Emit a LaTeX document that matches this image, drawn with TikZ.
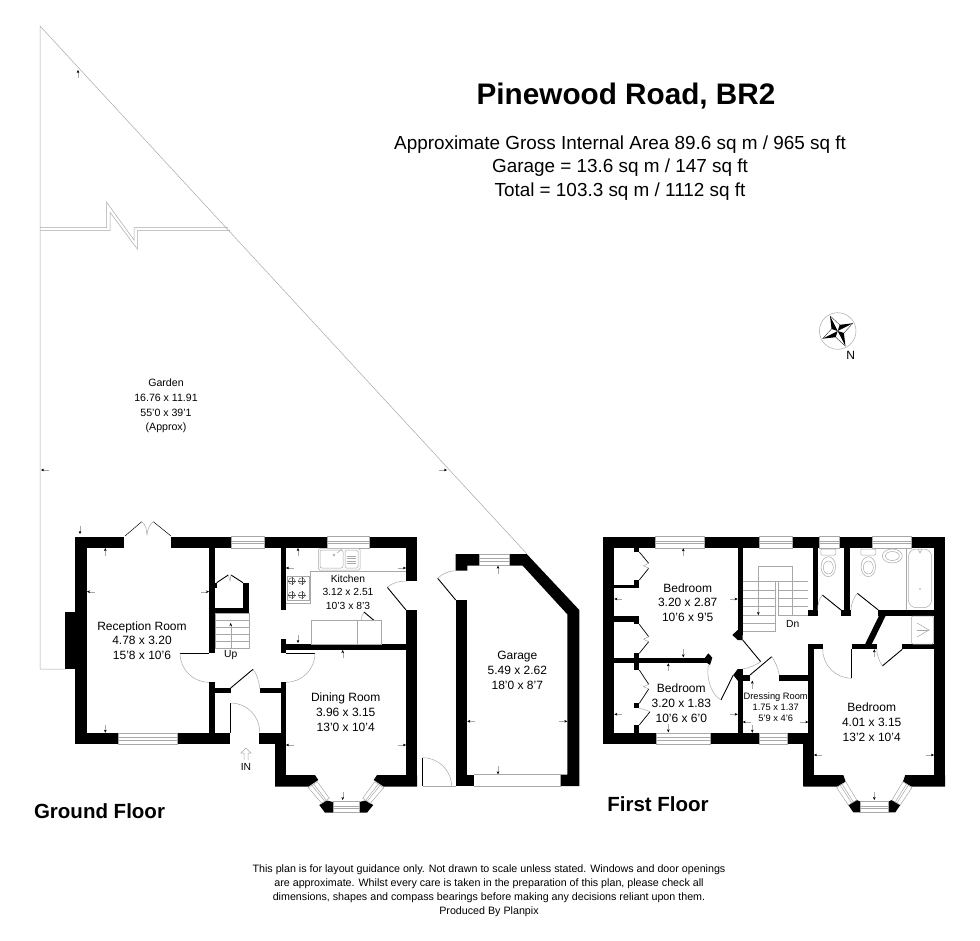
\documentclass[tikz,border=0pt]{standalone}
\usepackage{fontspec}
\setmainfont{Liberation Sans}
\usepackage{tikz}
\usetikzlibrary{arrows.meta,calc}
\definecolor{planline}{gray}{0.66}
\tikzset{
    %Define style for walls and windows
    wall/.style={fill=black,draw=none},
    winframe/.style={draw=planline,line width=.5pt,fill=white},
    fixture/.style={draw=planline,line width=.5pt,fill=white},
    thinline/.style={draw=planline,line width=.5pt},
    %Define style for doors
    leaf/.style={draw=black,line width=.9pt},
    swing/.style={draw=planline,line width=.5pt},
    % Define arrow style
    dimtick/.style={draw=planline,line width=.3pt,
           -{Stealth[length=3pt,width=2.6pt,black]}},
    %Define style for texts
    titletext/.style={font=\fontsize{29.7}{34}\selectfont\bfseries},
    areatext/.style={font=\fontsize{18.9}{23.5}\selectfont,align=center},
    floortext/.style={font=\fontsize{20.5}{24}\selectfont\bfseries},
    roomtext/.style={font=\fontsize{12}{14.6}\selectfont,align=center},
    smalltext/.style={font=\fontsize{10.3}{13.2}\selectfont,align=center},
    notetext/.style={font=\fontsize{10.7}{14}\selectfont,align=center}
}
\begin{document}
\begin{tikzpicture}[x=1pt,y=-1pt]
\useasboundingbox (0,0) rectangle (980,941);
% garden
\draw[thinline] (65,669) -- (40,669) -- (40,26) -- (527,554);
\draw[thinline] (40,227.7) -- (106.7,227.7) -- (106.7,202.3) -- (134,240) -- (134,227.7) -- (228,227.7);
\draw[thinline] (40,230.7) -- (110,230.7) -- (110,212.3) -- (137.3,249) -- (137.3,230.7) -- (230,230.7);
% ground floor walls
\foreach \xa/\ya/\xb/\yb in {75/536.7/124/548, 171/536.7/231/548, 264/536.7/327/548, 369/536.7/417/548,
    75/536.7/86.7/744.3, 65/612/75/669, 75/733/118/744.3, 177/733/230/744.3, 259/733/286/744.3,
    406/536.7/417/581, 406/610/417/786, 209/548/215/653, 209/682/215/733,
    215/688/231/693, 260/688/281/693, 243.3/583/249.3/613, 215/608/249.3/613, 215/583/217/588,
    281/548/286/610, 281/639/286/653, 281/644/406/649.5, 281/682/286/775, 275/733/286/786}
  \fill[wall] (\xa,\ya) rectangle (\xb,\yb);
\fill[wall] (275,775) -- (315,775) -- (318.3,780) -- (308.3,786.7) -- (275,786.7) -- cycle;
\fill[wall] (417,775) -- (377,775) -- (373.7,780) -- (383.7,786.7) -- (417,786.7) -- cycle;
\fill[wall] (319.3,805) -- (326.7,800.5) -- (333,802) -- (333,812.7) -- (325,812.7) -- cycle;
\fill[wall] (359.3,802) -- (365.3,800.5) -- (373.3,805) -- (367,812.7) -- (359.3,812.7) -- cycle;
% first floor walls
\foreach \xa/\ya/\xb/\yb in {603.3/536.7/655/548.3, 704.3/536.7/759/548.3, 792.7/536.7/819/548.3,
    839.3/536.7/872.3/548.3, 911.7/536.7/945/548.3, 603.3/536.7/614.3/744.3, 934/536.7/945/786,
    603.3/733.3/656/744.3, 710.7/733.3/759/744.3, 787.7/733.3/814/744.3, 803.3/733.3/814/786,
    737.7/548/742.7/635, 737.7/669/742.7/733.3, 742.7/675/750/680.7, 779.3/675/813.3/680.7,
    614.3/657.7/708.3/662.7, 614.3/585/639.3/588.3, 634/580/639.3/588.3, 634/548/639.3/552,
    614.3/615.7/639.3/621.7, 634/615.7/639.3/624.3, 634/653/639.3/670, 634/703.3/639.3/708.3, 634/725/639.3/733.3,
    813.3/548/817.7/615.7, 808.3/610/817.7/615.7, 844.3/548/850/615.7, 841/610/851/615.7,
    877.7/610/934/615.7, 808.3/644.3/822.7/649.3, 808.3/644.3/814/733.3,
    852.3/644.3/876.7/649.3, 902.3/644.3/934/649.3}
  \fill[wall] (\xa,\ya) rectangle (\xb,\yb);
\fill[wall] (879,615.7) -- (885.7,615.7) -- (871.7,644.3) -- (865,644.3) -- cycle;
\fill[wall] (737.7,630) -- (732.3,635) -- (737.7,640) -- (742.7,640) -- (742.7,630) -- cycle;
\fill[wall] (737.7,669) -- (733.3,675) -- (737.7,680.7) -- (742.7,680.7) -- (742.7,669) -- cycle;
\fill[wall] (705,657.7) -- (708.3,653.3) -- (712.3,657.7) -- (710,665) -- (706.7,662.7) -- cycle;
\fill[wall] (803.3,775) -- (843.3,775) -- (845.7,781.7) -- (836.7,786.7) -- (803.3,786.7) -- cycle;
\fill[wall] (945,775) -- (905.3,775) -- (902.9,781.7) -- (911.9,786.7) -- (945,786.7) -- cycle;
\fill[wall] (848.3,805) -- (856.7,800) -- (860.7,801.7) -- (860.7,812.3) -- (853.3,812.3) -- cycle;
\fill[wall] (887.9,801.7) -- (891.9,800) -- (900.3,805) -- (895.3,812.3) -- (887.9,812.3) -- cycle;
% garage walls
\fill[wall] (455.7,554) -- (526.7,554) -- (579.3,610) -- (579.3,786) -- (560.7,786) -- (560.7,774.7)
  -- (567.3,774.7) -- (567.3,614.3) -- (522.7,565.7) -- (467.3,565.7) -- (467.3,570.7) -- (455.7,570.7) -- cycle;
\fill[wall] (455.7,600) rectangle (467.3,786);
\fill[wall] (455.7,774.7) rectangle (474,786);
% windows
\foreach \xa/\ya/\xb/\yb in {231/536.7/264/548, 327/536.7/369/548, 118/733/177/744.3, 333/801.7/359.3/812.7,
    479.3/554/509.3/565.7, 655/536.7/704.3/548.3, 759/536.7/792.7/548.3, 819/536.7/839.3/548.3,
    872.3/536.7/911.7/548.3, 656/733.3/710.7/744.3, 759/733.3/787.7/744.3, 860.7/801.7/887.9/812.3}{
  \draw[winframe] (\xa,\ya) rectangle (\xb,\yb);
  \draw[thinline] (\xa,{\ya+(\yb-\ya)*.4}) -- (\xb,{\ya+(\yb-\ya)*.4});
  \draw[thinline] (\xa,{\ya+(\yb-\ya)*.6}) -- (\xb,{\ya+(\yb-\ya)*.6});
}
\foreach \xa/\ya/\xb/\yb/\xc/\yc/\xd/\yd in {317.3/781.7/308.3/787.7/321.7/803.3/329.3/798.3,
    374.7/781.7/383.7/787.7/370.3/803.3/362.7/798.3,
    845.7/781.7/836.7/787.7/848.3/805/856.7/800,
    902.9/781.7/911.9/787.7/900.3/805/891.9/800}{
  \draw[winframe] (\xa,\ya) -- (\xb,\yb) -- (\xc,\yc) -- (\xd,\yd) -- cycle;
  \draw[thinline] ($(\xa,\ya)!.4!(\xb,\yb)$) -- ($(\xd,\yd)!.4!(\xc,\yc)$);
  \draw[thinline] ($(\xa,\ya)!.6!(\xb,\yb)$) -- ($(\xd,\yd)!.6!(\xc,\yc)$);
}
% ground floor doors
\draw[leaf,line width=.5pt] (125,536) -- (141.7,521.7);
\draw[leaf,line width=.5pt] (171,536) -- (153.3,521.7);
\draw[swing] (141.7,521.7) .. controls (146,525) and (146.5,530) .. (147,535);
\draw[swing] (153.3,521.7) .. controls (149,525) and (147.5,530) .. (147,535);
\draw[leaf] (180,653.3) -- (209,653.3);
\draw[swing] (180,653.3) arc[start angle=180,end angle=90,radius=29];
\draw[leaf] (286,653.3) -- (315,653.3);
\draw[swing] (315,653.3) arc[start angle=0,end angle=90,radius=29];
\draw[leaf] (230.7,688) -- (253,669.3);
\draw[swing] (253,669.3) .. controls (257,674) and (259,682) .. (260,689);
\draw[leaf] (230.7,703) -- (230.7,733);
\draw[swing] (230.7,703) arc[start angle=270,end angle=360,radius=29];
\draw[leaf] (406,610) -- (387.3,587.3);
\draw[swing] (387.3,587.3) .. controls (392,583) and (399,581) .. (406,581);
\draw[leaf] (216.7,582.7) -- (228.3,575);
\draw[leaf] (243,582.7) -- (231,575);
\draw[swing] (228.3,575) -- (230,581) -- (231,575);
\draw[leaf] (364,612) -- (374.3,620.7);
\draw[swing] (364,612) .. controls (362,614) and (361.7,617) .. (361.5,620.7);
% garage doors
\draw[leaf] (455.7,600) -- (437.7,578.3);
\draw[swing] (437.7,578.3) .. controls (442,574) and (448,571) .. (455.7,570.7);
\draw[leaf] (422.7,757.7) -- (422.7,786);
\draw[swing] (422.7,757.7) arc[start angle=270,end angle=360,radius=29];
\draw[thinline] (422.7,786) -- (455.7,786);
\draw[thinline] (474,774.7) -- (560.7,774.7);
\draw[thinline] (474,786) -- (560.7,786);
% first floor doors
\draw[leaf] (841,610) -- (822.3,595);
\draw[swing] (822.3,595) .. controls (819,599) and (817.7,604) .. (817.7,610);
\draw[leaf] (878.3,610) -- (857.3,593.3);
\draw[swing] (857.3,593.3) .. controls (853.5,598) and (851,604) .. (851,610);
\draw[leaf] (851.7,649.3) -- (851.7,678.3);
\draw[swing] (851.7,678.3) arc[start angle=90,end angle=180,radius=29];
\draw[leaf] (902.3,649.3) -- (882.3,666);
\draw[swing] (882.3,666) .. controls (879,661) and (877,655) .. (876.7,649.3);
\draw[leaf] (742.7,640) -- (760.7,661.7);
\draw[swing] (760.7,661.7) .. controls (756,665) and (749,668) .. (742.7,669);
\draw[leaf] (750,675) -- (771.7,656.7);
\draw[swing] (771.7,656.7) .. controls (775,661) and (778,668) .. (779.3,675);
\draw[leaf] (733.3,675) -- (721,700);
\draw[swing] (721,700) .. controls (712,695) and (706,680) .. (708.3,665);
% wardrobe doors
\foreach \ya/\yb/\yc/\yd in {552/563.3/568.3/580, 624.3/636.7/641.7/653.3, 670/684.3/689/703.3}{
  \draw[leaf,line width=.7pt] (639.3,\ya) -- (648.7,\yb);
  \draw[leaf,line width=.7pt] (639.3,\yd) -- (648.7,\yc);
  \draw[swing] (648.7,\yb) -- (643.5,{(\yb+\yc)/2}) -- (648.7,\yc);
}
\draw[leaf,line width=.7pt] (639.3,725) -- (650,711.7);
\draw[swing] (650,711.7) .. controls (646,710) and (643,709) .. (639.3,708.3);
% stairs
\draw[thinline] (215,613) rectangle (249.3,648);
\foreach \yy in {620,627,634,641}
  \draw[thinline] (215,\yy) -- (249.3,\yy);
\draw[thinline] (758.3,615) -- (758.3,566.7) -- (792.7,566.7) -- (792.7,615);
\draw[thinline] (742.7,631.7) -- (775,631.7) -- (775,581) -- (778,581) -- (778,615);
\foreach \yy in {590,598.3,606.7,615,623.3}
  \draw[thinline] (742.7,\yy) -- (775,\yy);
\foreach \yy in {590,598.3,606.7,615}
  \draw[thinline] (778,\yy) -- (808,\yy);
\draw[thinline] (742.7,581) -- (775,581);
\draw[thinline] (778,581) -- (808,581);
% kitchen fittings
\draw[thinline] (406,571) -- (310,571) -- (310,603) -- (286,603);
\draw[fixture,rounded corners=1.5pt] (318.3,548.3) rectangle (360,570);
\draw[thinline,rounded corners=2pt] (320,550) rectangle (343,568);
\draw[thinline,rounded corners=1.5pt] (345,550) rectangle (358,568);
\foreach \yy in {556,558.5,561,563.5}
  \draw[thinline] (347,\yy) -- (356,\yy);
\draw[thinline] (337,553) -- (342,549);
\draw[thinline] (334,555) circle (1);
\draw[fixture] (287.3,576.7) rectangle (309.3,600);
\foreach \xx/\yy in {291.7/581, 301.7/581, 291.7/595, 301.7/595}{
  \draw[draw=black!70,line width=.4pt] (\xx,\yy) circle (3.2);
  \draw[draw=black!70,line width=.4pt] (\xx-4,\yy) -- (\xx+4,\yy) (\xx,\yy-4) -- (\xx,\yy+4);
}
\draw[thinline] (311.7,620.7) rectangle (381.7,644);
\draw[thinline] (357.3,620.7) -- (357.3,644);
% bathroom fittings
\draw[thinline] (906,548) -- (906,610);
\draw[thinline,rounded corners=8pt] (908.3,549) rectangle (931.7,607.7);
\fill[planline] (920,589) circle (.8);
\draw[thinline] (918,549) -- (920,553) -- (922,549);
\draw[fixture,rounded corners=1pt] (911.7,616) rectangle (933.3,644);
\draw[thinline] (917,623) -- (929,630) -- (917,637);
\draw[thinline] (917,630) -- (929,630);
\foreach \xx in {828.3,868.3}{
  \draw[thinline,rounded corners=1pt] (\xx-7.5,549) rectangle (\xx+7.5,555);
  \draw[thinline] (\xx,566.7) ellipse (7.3 and 10);
  \draw[thinline] (\xx,567.5) ellipse (5 and 6.5);
}
\draw[thinline] (892.3,556) ellipse (10 and 7);
\draw[thinline] (892.3,556) ellipse (7 and 4.5);
% dimension arrows
\foreach \xx/\yy/\aa in {78/70/90, 80/534/270, 41/470/0, 447/470/180,
    105.3/548/90, 87/591.7/0, 209/591.7/180, 105.3/732.7/270,
    298/548/90, 286/568/0, 406/568/180, 298/643/270,
    342.7/650/90, 286/745/0, 406/745/180, 342.7/800/270,
    498/565.7/90, 467.3/721.3/0, 567.3/721.3/180, 498/774.3/270,
    683.3/548.3/90, 614.3/599/0, 737.7/599/180, 683.3/657.3/270,
    668.3/663.3/90, 614.3/714.3/0, 737.7/714.3/180, 668.3/732.3/270,
    752.3/680.7/90, 742.7/722/0, 808.3/722/180, 752.3/732.7/270,
    874.3/649.3/90, 814/755/0, 934/755/180, 874.3/800/270}
  \draw[dimtick] (\xx,\yy) ++(\aa:8) -- (\xx,\yy);
\draw[dimtick] (230.7,648) -- (230.7,623);
\draw[dimtick] (758.3,590) -- (758.3,615);
% entrance arrow
\draw[thinline] (244,760) -- (244,753) -- (241,753) -- (246,748) -- (251,753) -- (248,753) -- (248,760);
% compass
\draw[thinline] (837.7,331) circle (18.3);
\foreach \aa in {243,333,63,153}{
  \fill[black] (837.7,331) -- +(\aa:17) -- +({\aa-45}:6.5) -- cycle;
  \draw[black,line width=.3pt] (837.7,331) +(\aa:17) -- +({\aa+45}:6.5);
}
% texts
\node[titletext] (title) at (626,96) {Pinewood Road, BR2};
\node[areatext] (area) at (620,168) {Approximate Gross Internal Area 89.6 sq m / 965 sq ft\\Garage = 13.6 sq m / 147 sq ft\\Total = 103.3 sq m / 1112 sq ft};
\node[floortext] (ground) at (99.5,811) {Ground Floor};
\node[floortext] (first) at (658,804) {First Floor};
\node[smalltext,font=\fontsize{10.6}{14.6}\selectfont] (garden) at (166,406) {Garden\\16.76 x 11.91\\55'0 x 39'1\\(Approx)};
\node[roomtext] (reception) at (142,640.7) {Reception Room\\4.78 x 3.20\\15'8 x 10'6};
\node[smalltext] (kitchen) at (348,592.3) {Kitchen\\3.12 x 2.51\\10'3 x 8'3};
\node[roomtext] (dining) at (345.7,712.3) {Dining Room\\3.96 x 3.15\\13'0 x 10'4};
\node[roomtext] (garage) at (517.3,670.3) {Garage\\5.49 x 2.62\\18'0 x 8'7};
\node[roomtext] (bedone) at (687.7,602.7) {Bedroom\\3.20 x 2.87\\10'6 x 9'5};
\node[roomtext] (bedtwo) at (681.3,703.3) {Bedroom\\3.20 x 1.83\\10'6 x 6'0};
\node[roomtext,font=\fontsize{9.3}{11}\selectfont] (dressing) at (775.7,706.7) {Dressing Room\\1.75 x 1.37\\5'9 x 4'6};
\node[roomtext] (bedthree) at (871.7,722.3) {Bedroom\\4.01 x 3.15\\13'2 x 10'4};
\node[smalltext] (up) at (230.7,655.5) {Up};
\node[smalltext] (dn) at (792.7,624) {Dn};
\node[smalltext] (in) at (246,767) {IN};
\node[roomtext] (north) at (850.7,355.7) {N};
\node[notetext] (note) at (489,891) {This plan is for layout guidance only. Not drawn to scale unless stated. Windows and door openings\\are approximate. Whilst every care is taken in the preparation of this plan, please check all\\dimensions, shapes and compass bearings before making any decisions reliant upon them.\\Produced By Planpix};
\end{tikzpicture}
\end{document}
